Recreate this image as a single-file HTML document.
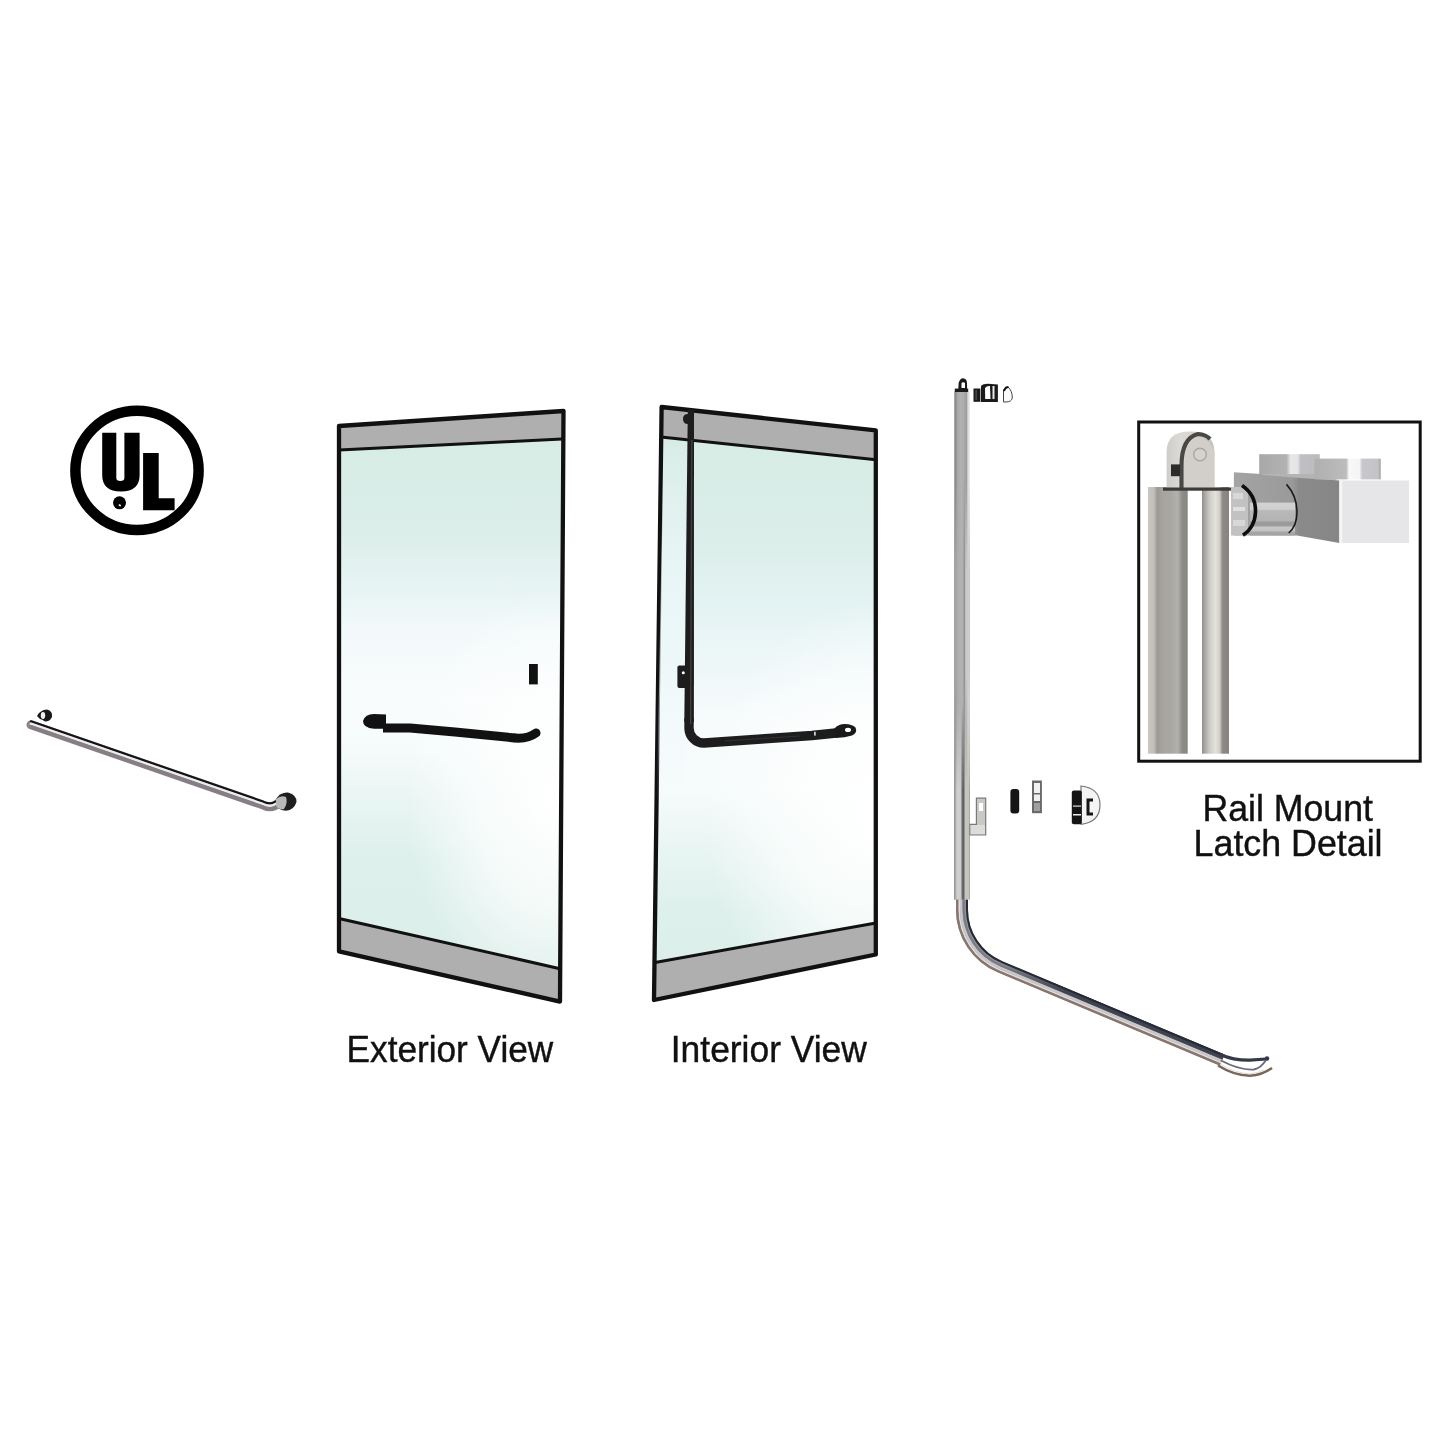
<!DOCTYPE html>
<html>
<head>
<meta charset="utf-8">
<style>
html,body{margin:0;padding:0;background:#fff;}
body{width:1445px;height:1445px;overflow:hidden;position:relative;font-family:"Liberation Sans",sans-serif;}
svg{position:absolute;left:0;top:0;filter:blur(0.3px);}
</style>
</head>
<body>
<svg width="1445" height="1445" viewBox="0 0 1445 1445">
<defs>
  <linearGradient id="glassE" gradientUnits="userSpaceOnUse" x1="0" y1="440" x2="0" y2="975">
    <stop offset="0.000" stop-color="#d8ece6"/>
    <stop offset="0.168" stop-color="#dbeee9"/>
    <stop offset="0.262" stop-color="#e5f3f2"/>
    <stop offset="0.355" stop-color="#f2f9fa"/>
    <stop offset="0.486" stop-color="#f9fcfd"/>
    <stop offset="0.579" stop-color="#f5fbfb"/>
    <stop offset="0.673" stop-color="#e8f5f3"/>
    <stop offset="0.785" stop-color="#ddf0ec"/>
    <stop offset="1.000" stop-color="#dbeee9"/>
  </linearGradient>
  <linearGradient id="glassI" gradientUnits="userSpaceOnUse" x1="0" y1="430" x2="0" y2="1000">
    <stop offset="0.000" stop-color="#d8ece6"/>
    <stop offset="0.193" stop-color="#dbeee9"/>
    <stop offset="0.298" stop-color="#e3f2f2"/>
    <stop offset="0.404" stop-color="#edf7f8"/>
    <stop offset="0.509" stop-color="#f7fbfc"/>
    <stop offset="0.632" stop-color="#f6fbfb"/>
    <stop offset="0.737" stop-color="#e8f5f3"/>
    <stop offset="0.842" stop-color="#ddf0ec"/>
    <stop offset="1.000" stop-color="#daede8"/>
  </linearGradient>
  <linearGradient id="leftcol" gradientUnits="userSpaceOnUse" x1="0" y1="440" x2="0" y2="800">
    <stop offset="0" stop-color="#eef8fa" stop-opacity="0"/>
    <stop offset="0.3" stop-color="#eef8fa" stop-opacity="0.6"/>
    <stop offset="0.7" stop-color="#eef8fa" stop-opacity="0.6"/>
    <stop offset="1" stop-color="#eef8fa" stop-opacity="0"/>
  </linearGradient>
  <radialGradient id="glowE" gradientUnits="userSpaceOnUse" cx="555" cy="800" r="150" gradientTransform="translate(555 800) scale(1 1.4) translate(-555 -800)">
    <stop offset="0" stop-color="#fff" stop-opacity="1"/>
    <stop offset="0.5" stop-color="#fff" stop-opacity="0.7"/>
    <stop offset="1" stop-color="#fff" stop-opacity="0"/>
  </radialGradient>
  <radialGradient id="glowI" gradientUnits="userSpaceOnUse" cx="875" cy="820" r="170" gradientTransform="translate(875 820) scale(1 1.3) translate(-875 -820)">
    <stop offset="0" stop-color="#fff" stop-opacity="1"/>
    <stop offset="0.5" stop-color="#fff" stop-opacity="0.7"/>
    <stop offset="1" stop-color="#fff" stop-opacity="0"/>
  </radialGradient>
  <linearGradient id="railV" gradientUnits="userSpaceOnUse" x1="954.3" y1="0" x2="970" y2="0">
    <stop offset="0" stop-color="#a0a0a0"/>
    <stop offset="0.3" stop-color="#b0b0b0"/>
    <stop offset="0.55" stop-color="#b2b2b2"/>
    <stop offset="0.64" stop-color="#8a8a8a"/>
    <stop offset="0.72" stop-color="#c6c6c6"/>
    <stop offset="0.95" stop-color="#d0d0d0"/>
    <stop offset="1" stop-color="#bcbcbc"/>
  </linearGradient>
  <linearGradient id="railT" gradientUnits="userSpaceOnUse" x1="954.3" y1="0" x2="970" y2="0">
    <stop offset="0" stop-color="#7e7e7e"/>
    <stop offset="0.1" stop-color="#8e8e8e"/>
    <stop offset="0.2" stop-color="#a8a8a8"/>
    <stop offset="0.45" stop-color="#b2b2b2"/>
    <stop offset="0.62" stop-color="#aaaaaa"/>
    <stop offset="0.78" stop-color="#9c9c9c"/>
    <stop offset="0.86" stop-color="#d8d8d8"/>
    <stop offset="1" stop-color="#eeeeee"/>
  </linearGradient>
  <linearGradient id="railB" gradientUnits="userSpaceOnUse" x1="954.3" y1="0" x2="970" y2="0">
    <stop offset="0" stop-color="#8a8a8a"/>
    <stop offset="0.1" stop-color="#b8b8b8"/>
    <stop offset="0.2" stop-color="#d0d0d0"/>
    <stop offset="0.42" stop-color="#cccccc"/>
    <stop offset="0.5" stop-color="#6a6a6a"/>
    <stop offset="0.62" stop-color="#5e5e5e"/>
    <stop offset="0.68" stop-color="#c8c6c0"/>
    <stop offset="0.92" stop-color="#c4c2bc"/>
    <stop offset="1" stop-color="#9a9a9a"/>
  </linearGradient>
  <linearGradient id="mMidG" gradientUnits="userSpaceOnUse" x1="0" y1="480" x2="0" y2="780">
    <stop offset="0" stop-color="#fff" stop-opacity="0"/>
    <stop offset="0.3" stop-color="#fff" stop-opacity="1"/>
    <stop offset="0.65" stop-color="#fff" stop-opacity="1"/>
    <stop offset="1" stop-color="#fff" stop-opacity="0"/>
  </linearGradient>
  <linearGradient id="mBotG" gradientUnits="userSpaceOnUse" x1="0" y1="700" x2="0" y2="790">
    <stop offset="0" stop-color="#fff" stop-opacity="0"/>
    <stop offset="1" stop-color="#fff" stop-opacity="1"/>
  </linearGradient>
  <mask id="mMid" maskUnits="userSpaceOnUse" x="940" y="380" width="40" height="540"><rect x="940" y="380" width="40" height="540" fill="url(#mMidG)"/></mask>
  <mask id="mBot" maskUnits="userSpaceOnUse" x="940" y="380" width="40" height="540"><rect x="940" y="380" width="40" height="540" fill="url(#mBotG)"/></mask>
  <linearGradient id="tube1" x1="0" y1="0" x2="1" y2="0">
    <stop offset="0" stop-color="#cbc8c3"/>
    <stop offset="0.15" stop-color="#c2bfba"/>
    <stop offset="0.23" stop-color="#9c9995"/>
    <stop offset="0.35" stop-color="#a4a39e"/>
    <stop offset="0.6" stop-color="#a9a8a3"/>
    <stop offset="0.75" stop-color="#b2b1ac"/>
    <stop offset="0.86" stop-color="#8c8d88"/>
    <stop offset="1" stop-color="#858680"/>
  </linearGradient>
  <linearGradient id="tube2" x1="0" y1="0" x2="1" y2="0">
    <stop offset="0" stop-color="#8f8c89"/>
    <stop offset="0.12" stop-color="#aeaba6"/>
    <stop offset="0.3" stop-color="#d0cec9"/>
    <stop offset="0.5" stop-color="#e2e1dc"/>
    <stop offset="0.65" stop-color="#d0cec9"/>
    <stop offset="0.76" stop-color="#8e8b87"/>
    <stop offset="1" stop-color="#868380"/>
  </linearGradient>
  <linearGradient id="blockface" gradientUnits="userSpaceOnUse" x1="1233" y1="0" x2="1340" y2="0">
    <stop offset="0" stop-color="#a4a4a4"/>
    <stop offset="0.55" stop-color="#9a9a9a"/>
    <stop offset="0.62" stop-color="#8a8a8a"/>
    <stop offset="1" stop-color="#868686"/>
  </linearGradient>
  <linearGradient id="shaft" x1="0" y1="0" x2="0" y2="1">
    <stop offset="0" stop-color="#d2d2d2"/>
    <stop offset="0.2" stop-color="#d0d0d0"/>
    <stop offset="0.25" stop-color="#b8b8b8"/>
    <stop offset="0.55" stop-color="#b4b4b4"/>
    <stop offset="0.6" stop-color="#9a9a9a"/>
    <stop offset="0.7" stop-color="#9c9c9c"/>
    <stop offset="0.75" stop-color="#c8c8c8"/>
    <stop offset="0.85" stop-color="#c4c4c4"/>
    <stop offset="0.9" stop-color="#a6a6a6"/>
    <stop offset="1" stop-color="#a4a4a4"/>
  </linearGradient>
  <linearGradient id="bump1" x1="0" y1="0" x2="1" y2="0">
    <stop offset="0" stop-color="#a8a8a8"/>
    <stop offset="0.45" stop-color="#b2b2b2"/>
    <stop offset="0.52" stop-color="#e8e8e8"/>
    <stop offset="0.64" stop-color="#e4e4e4"/>
    <stop offset="0.68" stop-color="#c0c0c4"/>
    <stop offset="1" stop-color="#bcbcbe"/>
  </linearGradient>
  <linearGradient id="bump2" x1="0" y1="0" x2="1" y2="0">
    <stop offset="0" stop-color="#b0b0b0"/>
    <stop offset="0.48" stop-color="#bcbcbc"/>
    <stop offset="0.52" stop-color="#f8f8f8"/>
    <stop offset="0.68" stop-color="#f4f4f4"/>
    <stop offset="0.72" stop-color="#c8c8cc"/>
    <stop offset="0.95" stop-color="#c4c4c8"/>
    <stop offset="1" stop-color="#a8a8a8"/>
  </linearGradient>
  <linearGradient id="clev" x1="0" y1="0" x2="1" y2="0">
    <stop offset="0" stop-color="#cfcdc9"/>
    <stop offset="0.3" stop-color="#dddbd7"/>
    <stop offset="1" stop-color="#c6c3be"/>
  </linearGradient>
</defs>

<!-- UL logo -->
<g id="ul">
  <ellipse cx="137" cy="470.4" rx="61.6" ry="59.6" fill="none" stroke="#000" stroke-width="10.5"/>
  <path d="M102.2 432.8 H116.3 V478 Q116.3 481 120.3 481 Q124.4 481 124.4 478 V432.8 H139.6 V475 Q139.6 491.5 121 491.5 Q102.2 491.5 102.2 475 Z" fill="#000"/>
  <circle cx="119.5" cy="502.8" r="6.5" fill="#000"/>
  <ellipse cx="119.8" cy="505.3" rx="1.3" ry="0.9" fill="#fff" transform="rotate(35 119.8 505.3)"/>
  <path d="M143.1 452.9 H158.7 V498.2 H174.6 V510.3 H143.1 Z" fill="#000"/>
</g>

<!-- left pull bar -->
<g id="pullbar">
  <path d="M31 724.7 L262 804.6 Q272 810.1 280 801.6" fill="none" stroke="#8c848a" stroke-width="9" stroke-linecap="round"/>
  <path d="M31 721.4 L262 801.3 Q272 806.8 280 798.3" fill="none" stroke="#141414" stroke-width="2.4" stroke-linecap="round"/>
  <path d="M31 723.8 L262 803.7 Q272 809.2 280 800.7" fill="none" stroke="#ececec" stroke-width="2.6" stroke-linecap="round"/>
  <path d="M31 726.8 L262 806.7 Q272 812.2 280 803.7" fill="none" stroke="#877d84" stroke-width="3.6" stroke-linecap="round"/>
  <path d="M37 716 Q40 710 47 709.5 Q53 711 52 717 Q50 721.6 45 721.6 Q42 719 40 719 Z" fill="#1a1a1a"/>
  <ellipse cx="43" cy="715.5" rx="2.2" ry="3.4" fill="#f4f4f4"/>
  <path d="M276 799 Q280 792 288 792.4 Q297 795 296.5 802 Q294 810 286 810.7 Q279 810 276 806 Z" fill="#1e1e1e"/>
  <path d="M276 799 Q281 795 286 797 Q288 803 284 809 Q279 810 276 806 Z" fill="#b8b8b8"/>
</g>

<!-- Exterior door -->
<g id="ext">
  <polygon points="339,426 563.5,411 560,1001.6 339,951.3" fill="url(#glassE)"/>
  <polygon points="339,426 563.5,411 560,1001.6 339,951.3" fill="url(#glowE)"/>
  <polygon points="339,426 563.5,411 563,439.5 339,450.5" fill="#afafaf"/>
  <polygon points="339,918.5 560,968.7 560,1001.6 339,951.3" fill="#afafaf"/>
  <line x1="339" y1="450" x2="562" y2="439" stroke="#111" stroke-width="3"/>
  <line x1="339" y1="918.5" x2="560" y2="968.7" stroke="#111" stroke-width="3"/>
  <polygon points="339,426 563.5,411 560,1001.6 339,951.3" fill="none" stroke="#111" stroke-width="4.3" stroke-linejoin="round"/>
  <rect x="529" y="664" width="8.8" height="20.4" fill="#111"/>
  <!-- handle -->
  <path d="M383 728 L410 728 L455 732 L515 738" fill="none" stroke="#111" stroke-width="9" stroke-linejoin="round"/>
  <path d="M515 738 Q528 739 536 733" fill="none" stroke="#111" stroke-width="9" stroke-linecap="round"/>
  <path d="M363 721 Q365 714 374 714 L386 714.5 L386 728.7 L374 728.7 Q363 728 363 721 Z" fill="#111"/>
</g>

<!-- Interior door -->
<g id="int">
  <polygon points="661.6,407 875.8,430.3 875.8,954.5 654,1000" fill="url(#glassI)"/>
  <polygon points="661.6,407 875.8,430.3 875.8,954.5 654,1000" fill="url(#glowI)"/>
  <polygon points="661.6,407 875.8,430.3 875.8,459.8 661.6,437" fill="#afafaf"/>
  <polygon points="655,962.5 875.8,923 875.8,954.5 654,1000" fill="#afafaf"/>
  <line x1="661" y1="437" x2="876" y2="459.8" stroke="#111" stroke-width="3"/>
  <line x1="655" y1="962.5" x2="876" y2="923" stroke="#111" stroke-width="3"/>
  <polygon points="661.6,407 875.8,430.3 875.8,954.5 654,1000" fill="none" stroke="#111" stroke-width="4.3" stroke-linejoin="round"/>
  <!-- vertical rod + bar -->
  <polygon points="663.5,438 686,440 684.5,800 657,800" fill="url(#leftcol)"/>
  <polygon points="687.8,409.5 694,409.5 693.9,722 684.3,722" fill="#1e1d1d"/>
  <path d="M689.1 718 L689 728 A15 15 0 0 0 704 743 L812 735.5 L836 733" fill="none" stroke="#1e1d1d" stroke-width="9.4"/>
  <path d="M691.8 440 L690.6 724" fill="none" stroke="#4a4746" stroke-width="1.4" opacity="0.8"/>
  <path d="M725 741 L800 736" fill="none" stroke="#3a3838" stroke-width="1.2" opacity="0.7"/>
  <path d="M834 729 Q838 724 845 724 Q852 724 855.5 727.5 Q858 733 852 735.5 Q845 737.5 836 738 Z" fill="#1a1a1a"/>
  <ellipse cx="848" cy="729.9" rx="3" ry="2.1" fill="#fff"/>
  <rect x="814" y="731.8" width="1.8" height="3.8" fill="#ccc"/>
  <rect x="677.4" y="665.4" width="9" height="22.6" rx="2" fill="#1e1d1d"/>
  <circle cx="683.3" cy="672.7" r="1.5" fill="#fff"/>
  <path d="M683 419 Q683 414 688 414 L692 414 L692 424 L688 424 Q683 424 683 419 Z" fill="#1e1d1d"/>
</g>

<!-- Rail (vertical + diagonal) -->
<g id="rail">
  <path d="M962.0 896 V909.6 A62.0 62.0 0 0 0 1000.0 966.8 L1222.2 1060.1" fill="none" stroke="#8e8e94" stroke-width="12.0"/>
  <path d="M961.2 896 V909.6 A62.8 62.8 0 0 0 999.7 967.5 L1221.9 1060.9" fill="none" stroke="#c8c8cc" stroke-width="2.4"/>
  <path d="M959.2 896 V909.6 A64.8 64.8 0 0 0 998.9 969.4 L1221.1 1062.7" fill="none" stroke="#e0dcd8" stroke-width="1.6"/>
  <path d="M957.1 896 V909.6 A66.9 66.9 0 0 0 998.1 971.3 L1220.3 1064.6" fill="none" stroke="#8a746c" stroke-width="2.2"/>
  <path d="M963.6 896 V909.6 A60.4 60.4 0 0 0 1000.6 965.3 L1222.8 1058.7" fill="none" stroke="#7a7c84" stroke-width="2.0"/>
  <linearGradient id="railDk" gradientUnits="userSpaceOnUse" x1="1000.0" y1="966.8" x2="1064.5" y2="993.9"><stop offset="0" stop-color="#3c404c" stop-opacity="0"/><stop offset="1" stop-color="#3c404c" stop-opacity="0.95"/></linearGradient>
  <polygon points="1002.3,961.3 1224.5,1054.6 1222.4,1059.6 1000.2,966.3" fill="url(#railDk)"/>
  <path d="M967.0 896 V909.6 A57.0 57.0 0 0 0 1001.9 962.2 L1224.1 1055.5" fill="none" stroke="#262a36" stroke-width="2.0"/>
  <rect x="954.3" y="391.5" width="15.7" height="508" fill="url(#railT)"/>
  <rect x="954.3" y="391.5" width="15.7" height="508" fill="url(#railV)" mask="url(#mMid)"/>
  <rect x="954.3" y="391.5" width="15.7" height="508" fill="url(#railB)" mask="url(#mBot)"/>
  <!-- rail end -->
  <path d="M1220 1054.5 Q1234 1060.5 1250 1060.2 L1266 1059" fill="none" stroke="#353949" stroke-width="3.2"/>
  <path d="M1221 1060.5 Q1240 1070.5 1254 1069.5 Q1261 1068 1266 1060" fill="none" stroke="#676a78" stroke-width="1.8"/>
  <path d="M1218 1065.5 Q1234 1075.5 1250 1075.8 Q1262 1075 1272 1068" fill="none" stroke="#7a665c" stroke-width="2.6"/>
  <path d="M1220 1064 Q1236 1073.5 1250 1073.8 Q1258 1073 1264 1070" fill="none" stroke="#e6dcd2" stroke-width="1"/>
  <circle cx="1267" cy="1058.5" r="2.3" fill="#353949"/>
  <!-- top parts -->
  <rect x="954.8" y="388.6" width="13.4" height="3.4" fill="#1a1a1a"/>
  <path d="M958.3 390 L958.6 383 Q960 378.3 963 378.3 Q966.8 378.6 967 383 L967.1 390 Z" fill="#1a1a1a"/>
  <path d="M961.5 388 L961.5 382.8 Q963.5 381.5 965 383 L965 388 Z" fill="#fff"/>
  <rect x="973.5" y="388.5" width="6.9" height="13.3" fill="#1a1a1a"/>
  <rect x="975.5" y="390" width="1.2" height="10" fill="#555"/>
  <path d="M981 386 Q983 383.8 988 383.8 L997.9 384.5 L997.9 402 L981 402 Z" fill="#1a1a1a"/>
  <path d="M985 388 Q987 385.5 990 386 L990.5 399 L985.2 399 Z" fill="#fff"/>
  <rect x="992.5" y="386" width="2" height="13" fill="#e8e8e8"/>
  <path d="M1003.5 402 L1003.5 390 Q1006 386 1008 387 Q1012.5 391 1012.3 398 Q1011.5 402 1006 402 Z" fill="#fafafa" stroke="#444" stroke-width="1"/>
  <path d="M1004 391 Q1006 386 1008.5 387.5" fill="none" stroke="#111" stroke-width="2"/>
  <!-- small parts -->
  <path d="M976.4 798.2 H985.7 V834.8 H970 V824.3 H976.4 Z" fill="#c8c8c4" stroke="#7a7a7a" stroke-width="1.2"/>
  <rect x="970.5" y="825" width="14.5" height="9.3" fill="#dcdcd8"/>
  <rect x="979" y="803" width="4" height="8" fill="#fff"/>
  <rect x="1010.4" y="789" width="8.8" height="24.4" rx="3" fill="#151515"/>
  <rect x="1032" y="780.5" width="9.9" height="32.7" fill="#6a6a6a"/>
  <rect x="1034" y="783" width="6" height="10" fill="#f0f0f0"/>
  <rect x="1034" y="794.5" width="6" height="6.5" fill="#f0f0f0"/>
  <rect x="1034" y="803" width="6" height="8" fill="#a0a0a0"/>
  <path d="M1081 786 Q1100 788 1100 805 Q1100 822 1081 824.3 Z" fill="#f4f4f4" stroke="#777" stroke-width="1.2"/>
  <rect x="1071.8" y="790.5" width="10" height="33.8" rx="2" fill="#151515"/>
  <path d="M1093 800 H1088 V814 H1093" fill="none" stroke="#151515" stroke-width="3"/>
  <rect x="1073" y="805.5" width="8" height="1.2" fill="#ddd"/>
  <rect x="1073" y="814" width="8" height="1.5" fill="#eee"/>
</g>

<!-- Detail box -->
<g id="detail">
  <rect x="1138.7" y="422" width="281.5" height="339.2" fill="#fff" stroke="#111" stroke-width="3"/>
  <rect x="1148" y="487" width="39.7" height="266.7" fill="url(#tube1)"/>
  <rect x="1202" y="487" width="27" height="266.7" fill="url(#tube2)"/>
  <!-- clevis -->
  <path d="M1166.6 488 V452 Q1166.6 431.6 1190 431.6 Q1214.4 431.6 1214.4 452 V488 Z" fill="url(#clev)"/>
  <path d="M1181.5 488 V466 Q1181.5 438 1198 434 Q1206 434.5 1210 439" fill="none" stroke="#4a4846" stroke-width="4.2"/>
  <path d="M1184 488 V466 Q1184 441 1200 438 Q1210 440 1214.4 452 V488 Z" fill="#d2cfca"/>
  <rect x="1171" y="464.4" width="9" height="11.8" fill="#2c2c2c"/>
  <circle cx="1200" cy="454.5" r="6.3" fill="#d6d3ce" stroke="#a9a6a1" stroke-width="1.4"/>
  <rect x="1163" y="487.5" width="69" height="3.2" fill="#3c3b39"/>
  <!-- block -->
  <path d="M1233.9 472.2 L1300 476.5 L1339.4 480.5 L1339.4 543 L1297 535.5 L1233.9 535.5 Z" fill="url(#blockface)"/>
  <path d="M1262 472 L1320 474 L1339.4 480.5 L1300 478 L1262 475 Z" fill="#b4b4b4"/>
  <rect x="1339.4" y="480.5" width="69.7" height="62.5" fill="#e6e6e8"/>
  <rect x="1339.4" y="480.5" width="3" height="62.5" fill="#f4f4f6"/>
  <rect x="1259.2" y="454.2" width="60.6" height="19.8" fill="url(#bump1)"/>
  <rect x="1314.4" y="458.6" width="66.4" height="20.8" fill="url(#bump2)"/>
  <rect x="1250" y="502.6" width="45" height="32.9" fill="url(#shaft)"/>
  <rect x="1231" y="487" width="17" height="48.5" fill="#c2c2c2"/>
  <rect x="1233" y="493" width="10" height="6" fill="#d8d8d8"/>
  <rect x="1233" y="507" width="12" height="4" fill="#e0e0e0"/>
  <rect x="1233" y="520" width="12" height="6" fill="#d8d8d8"/>
  <path d="M1242 485.5 Q1256 495 1255.5 512 Q1255 527 1243 535.3" fill="none" stroke="#0d0d0d" stroke-width="3.6"/>
  <path d="M1286.5 484.4 Q1297 496 1297 512 Q1297 526 1288.7 533" fill="none" stroke="#1a1a1a" stroke-width="1.6"/>
</g>

<!-- Text labels -->
<g font-family="Liberation Sans, sans-serif" fill="#111" stroke="#111" stroke-width="0.4">
  <text x="346.6" y="1062.3" font-size="35.2" transform="translate(0 1062.3) scale(1 1.03) translate(0 -1062.3)">Exterior View</text>
  <text x="670.8" y="1062.3" font-size="35.4" transform="translate(0 1062.3) scale(1 1.03) translate(0 -1062.3)">Interior View</text>
  <text x="1202.4" y="821" font-size="35.7" transform="translate(0 821) scale(1 1.03) translate(0 -821)">Rail Mount</text>
  <text x="1193.6" y="856" font-size="35.8" transform="translate(0 856) scale(1 1.03) translate(0 -856)">Latch Detail</text>
</g>
</svg>
</body>
</html>
